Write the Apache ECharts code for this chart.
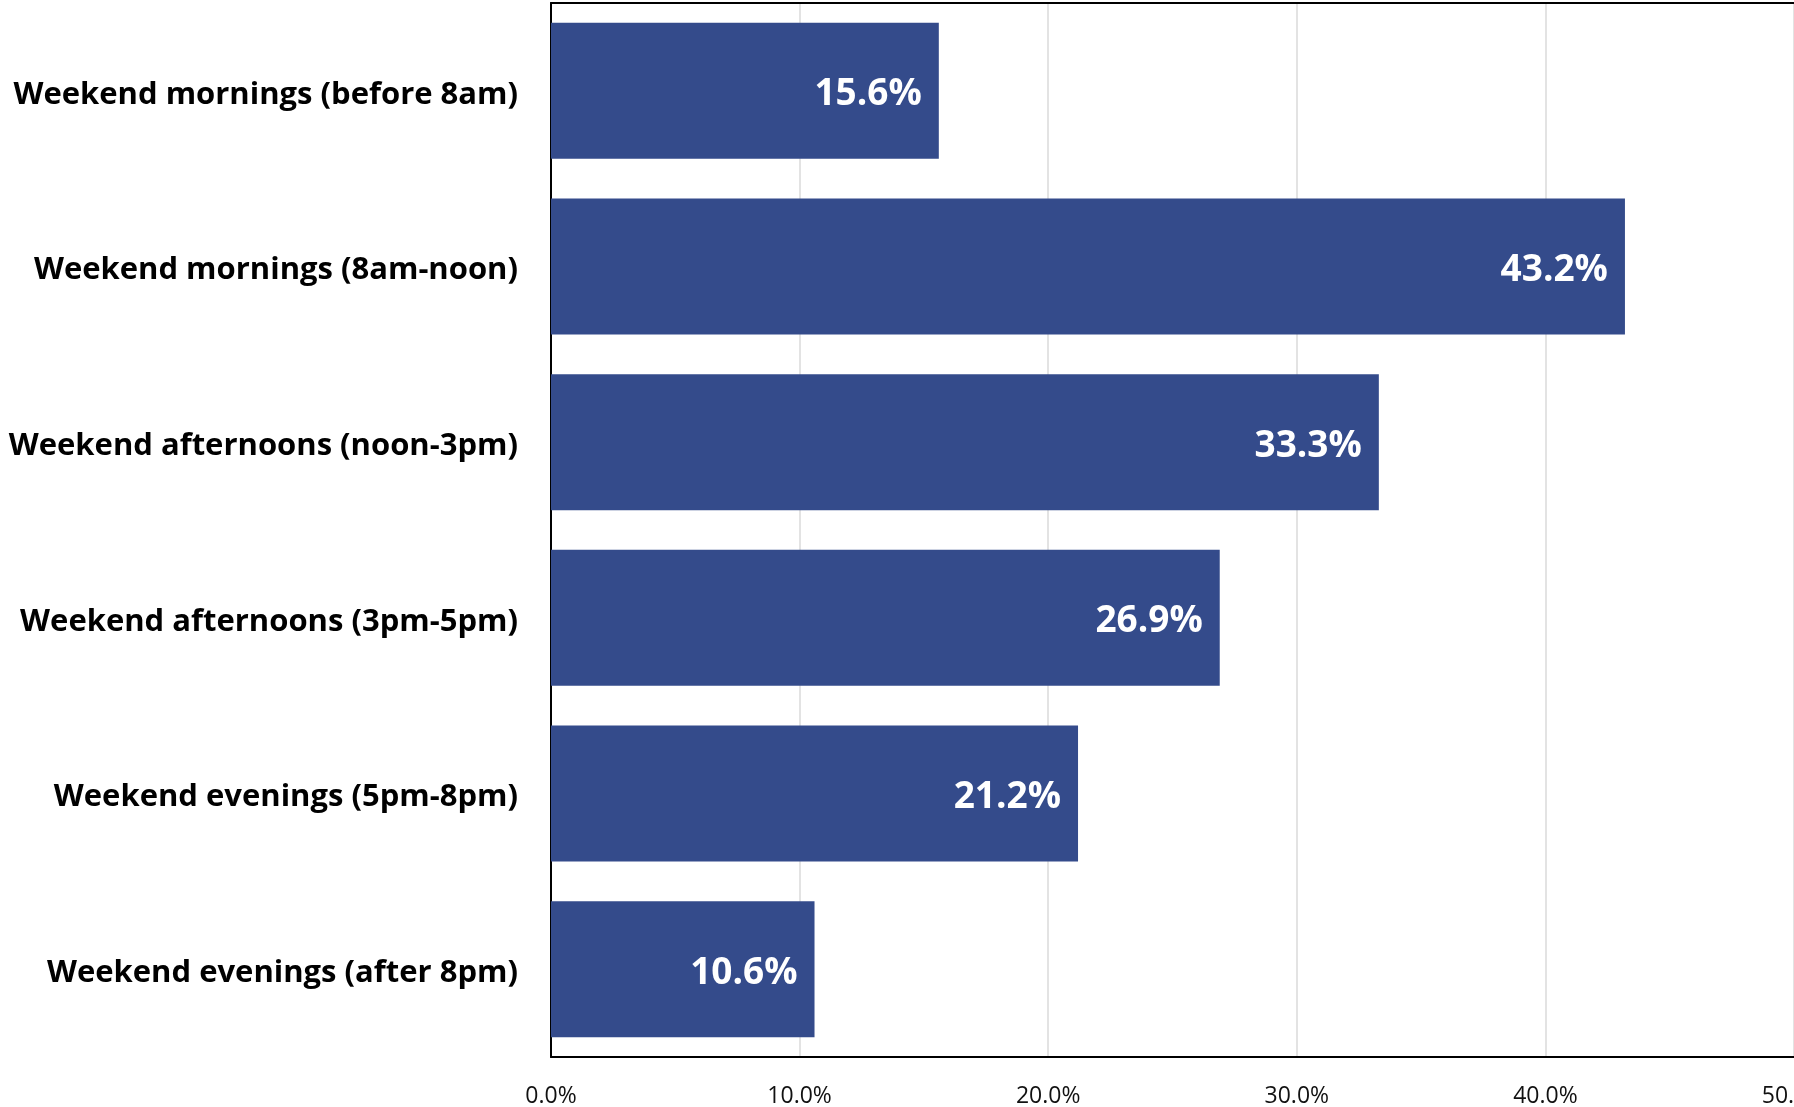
<!DOCTYPE html>
<html>
<head>
<meta charset="utf-8">
<script src="https://cdn.jsdelivr.net/npm/echarts@6/dist/echarts.min.js"></script>
<style>
  html, body { margin: 0; padding: 0; background: #fff; }
  #chart-container { width: 1794px; height: 1107px; }
</style>
</head>
<body>
<div id="chart-container"></div>
<script>
const categories = [
    'Weekend mornings (before 8am)',
    'Weekend mornings (8am-noon)',
    'Weekend afternoons (noon-3pm)',
    'Weekend afternoons (3pm-5pm)',
    'Weekend evenings (5pm-8pm)',
    'Weekend evenings (after 8pm)'
];
const shares = [15.6, 43.2, 33.3, 26.9, 21.2, 10.6];

let dom = document.getElementById('chart-container');
let myChart = echarts.init(dom, null, { renderer: 'canvas' });

option = {
    animation: false,
    grid: {
        left: 551,
        right: 0,
        top: 3,
        bottom: 50,
        containLabel: false,
        outerBoundsMode: 'none'
    },
    xAxis: [
        {
            type: 'value',
            min: 0,
            max: 50,
            interval: 10,
            axisLine: { show: true, lineStyle: { color: '#000', width: 2 } },
            axisTick: { show: false },
            splitLine: { show: true, lineStyle: { color: '#e3e3e3', width: 2 } },
            axisLabel: {
                formatter: (v) => v.toFixed(1) + '%',
                color: '#111',
                fontFamily: 'Open Sans',
                fontSize: 23,
                margin: 28,
                showMaxLabel: true,
                hideOverlap: false
            }
        },
        {
            type: 'value',
            position: 'top',
            min: 0,
            max: 50,
            axisLine: { show: true, lineStyle: { color: '#000', width: 2 } },
            axisTick: { show: false },
            axisLabel: { show: false },
            splitLine: { show: false }
        }
    ],
    yAxis: {
        type: 'category',
        inverse: true,
        data: categories,
        axisLine: { show: true, lineStyle: { color: '#000', width: 2 } },
        axisTick: { show: false },
        axisLabel: {
            margin: 33,
            formatter: (v) => '{c|' + v + '}',
            rich: {
                c: {
                    color: '#000',
                    fontFamily: 'Open Sans',
                    fontWeight: 'bold',
                    fontSize: 31,
                    padding: [8, 0, 0, 0]
                }
            }
        }
    },
    series: [
        {
            type: 'bar',
            data: shares,
            barWidth: 136,
            itemStyle: { color: '#344b8b' },
            label: {
                show: true,
                position: 'insideRight',
                distance: 17,
                offset: [0, 4],
                formatter: (p) => p.value.toFixed(1) + '%',
                color: '#fff',
                fontFamily: 'Open Sans',
                fontWeight: 'bold',
                fontSize: 37
            }
        }
    ]
};

myChart.setOption(option);
</script>
</body>
</html>
